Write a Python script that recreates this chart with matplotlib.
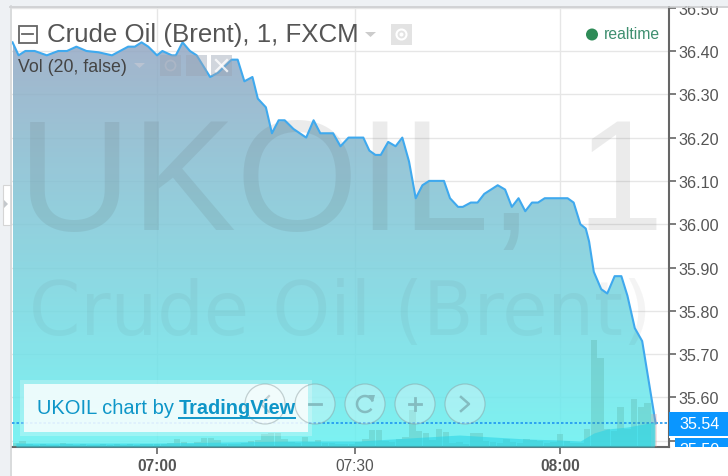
import numpy as np
import matplotlib
matplotlib.use("Agg")
import matplotlib.pyplot as plt
from matplotlib.colors import LinearSegmentedColormap
from matplotlib.patches import Circle, PathPatch, Polygon, Rectangle
from matplotlib.path import Path

plt.rcParams['font.family'] = ['Liberation Sans', 'DejaVu Sans']

# minutes after 07:00 and price
minutes = [-21.5, -20.6, -19.6, -18.2, -16.4, -14.7, -13.4, -12.0, -10.5, -8.7, -6.7, -4.3, -3.3, -2.3, -1.3,
           0, 0.8, 2.2, 2.8, 3.8, 4.9, 5.9, 7.9, 9.1, 11.1, 12.0, 13.0, 14.2, 15.0, 16.2, 17.1, 18.1, 19.0,
           20.3, 22.2, 23.3, 24.3, 26.2, 27.3, 28.5, 30.7, 31.6, 32.5, 33.3, 34.4, 35.5, 36.5, 37.5, 38.5,
           39.5, 40.5, 42.7, 43.6, 44.8, 45.5, 46.7, 47.7, 48.7, 49.7, 50.7, 51.8, 52.8, 53.8, 54.8, 55.8,
           56.7, 57.7, 61.1, 62.0, 63.0, 63.8, 64.3, 65.0, 66.1, 67.0, 68.1, 69.1, 70.0, 71.1, 72.2, 73.2, 74.2]
prices = [36.42, 36.39, 36.40, 36.40, 36.39, 36.40, 36.40, 36.41, 36.40, 36.397, 36.39, 36.41, 36.41, 36.42, 36.41,
          36.39, 36.40, 36.39, 36.39, 36.42, 36.40, 36.39, 36.34, 36.35, 36.38, 36.38, 36.33, 36.34, 36.29, 36.27,
          36.21, 36.24, 36.24, 36.22, 36.20, 36.24, 36.21, 36.21, 36.18, 36.20, 36.20, 36.17, 36.16, 36.16, 36.19,
          36.18, 36.20, 36.145, 36.06, 36.09, 36.10, 36.10, 36.06, 36.04, 36.04, 36.05, 36.05, 36.07, 36.08, 36.09,
          36.08, 36.04, 36.06, 36.03, 36.05, 36.05, 36.06, 36.06, 36.05, 36.00, 35.99, 35.96, 35.89, 35.85, 35.84,
          35.88, 35.88, 35.835, 35.76, 35.73, 35.635, 35.54]

first_bar = -21
volumes = [4, 6, 3, 2, 3, 2, 2, 4, 3, 2, 3, 2, 2, 3, 2, 3, 2, 3, 2, 3, 3,
           3, 3, 4, 8, 5, 3, 5, 9, 9, 7, 3, 3, 3, 4, 6, 7, 13, 14, 14, 8, 5, 4,
           10, 5, 7, 4, 4, 3, 3, 3, 5, 8, 17, 17, 6, 5, 8, 10, 37, 16, 14, 7, 18, 15,
           4, 5, 3, 14, 14, 6, 5, 4, 8, 5, 4, 8, 7, 6, 4, 5, 13, 6, 4, 4,
           18, 107, 89, 18, 16, 40, 18, 48, 40, 44, 33]
ma_minutes = [-21, -10, 0, 10, 20, 30, 35, 40, 45, 50, 55, 60, 63, 65, 67, 70, 74]
ma_values = [4, 4, 4, 5, 6, 6, 8, 10, 12, 10, 8, 7, 6, 14, 18, 20, 25]

last_price = 35.54
price_ticks = [35.5, 35.6, 35.7, 35.8, 35.9, 36.0, 36.1, 36.2, 36.3, 36.4, 36.5]
time_ticks = [0, 29.4, 60]
time_labels = ['07:00', '07:30', '08:00']

W, H = 728, 477
fig = plt.figure(figsize=(W / 100, H / 100), dpi=100, facecolor='white')
ax = fig.add_axes([12 / W, 1 - 448 / H, 657 / W, 440 / H])
ax.set_xlim(-21.58, 76.19)
ax.set_ylim(35.4855, 36.5016)
ax.set_zorder(1)

# volume pane shares the plot area (twinx resets tick sides, so do it first)
vol_ax = ax.twinx()
vol_ax.set_ylim(0, 440)
vol_ax.axis('off')
vol_ax.set_zorder(2)

ax.set_yticks(price_ticks)
# 35.50 is hidden behind the blue tag in the reference
ax.set_yticklabels(['' if p == 35.5 else f'{p:.2f}' for p in price_ticks])
ax.yaxis.tick_right()
ax.set_xticks(time_ticks)
ax.set_xticklabels(time_labels)
ax.tick_params(axis='y', length=5, width=1.2, color='#666666', labelcolor='#555555', labelsize=11.6, pad=2)
ax.tick_params(axis='x', length=5, width=1.2, color='#666666', labelcolor='#555555', labelsize=11.2, pad=3)
for lab, txt in zip(ax.get_xticklabels(), time_labels):
    if txt.endswith(':00'):
        lab.set_fontweight('bold')
for s in ['top', 'left']:
    ax.spines[s].set_visible(False)
for s in ['right', 'bottom']:
    ax.spines[s].set_color('#666666')
    ax.spines[s].set_linewidth(1.5)
ax.grid(True, color='#e6e6e6', lw=1)
ax.set_axisbelow(True)

# area with vertical gradient
cmap = LinearSegmentedColormap.from_list('area', ['#93a7c3', '#65f1f1'])
grad = np.linspace(0, 1, 256).reshape(-1, 1)
top = max(prices)
bottom = ax.get_ylim()[0]
img = ax.imshow(grad, cmap=cmap, extent=[minutes[0], minutes[-1], bottom, top], aspect='auto', alpha=0.85, zorder=2,
                origin='upper')
verts = list(zip(minutes, prices)) + [(minutes[-1], bottom), (minutes[0], bottom)]
clip = PathPatch(Path(verts + [verts[0]], closed=True), transform=ax.transData, fc='none', ec='none')
ax.add_patch(clip)
img.set_clip_path(clip)
ax.set_xlim(-21.58, 76.19)
ax.set_ylim(35.4855, 36.5016)

# watermark
ax.text(0.5, 0.495, 'UKOIL, 1', transform=ax.transAxes, ha='center', va='baseline', fontsize=113,
        color='#505050', alpha=0.11, zorder=3)
ax.text(0.5, 0.257, 'Crude Oil (Brent)', transform=ax.transAxes, ha='center', va='baseline', fontsize=53,
        family='DejaVu Sans', color='#505050', alpha=0.06, zorder=3)

ax.axhline(last_price, color='#1e96f0', lw=1.2, ls=(0, (1.5, 1.2)), zorder=5)
ax.plot(minutes, prices, color='#3fa9ee', lw=1.5, zorder=6, solid_joinstyle='round')

bar_x = np.arange(first_bar, first_bar + len(volumes))
bar_colors = ['#4f9f90'] * len(volumes)
bar_colors[-1] = '#e58a8a'
vol_ax.bar(bar_x, volumes, width=0.95, color=bar_colors, alpha=0.25, lw=0)
vol_ax.fill_between(ma_minutes, ma_values, 0, color='#27d3e6', alpha=0.55, lw=0)

# overlay in pixel coordinates for the widget chrome
ov = fig.add_axes([0, 0, 1, 1])
ov.set_xlim(0, W)
ov.set_ylim(H, 0)
ov.axis('off')
ov.set_zorder(3)
ov.patch.set_alpha(0)

ov.add_patch(Rectangle((0, 0), W, 7, fc='#eef1f4', ec='none'))
ov.plot([10, W], [7.5, 7.5], color='#c9cbcd', lw=1.2)
ov.add_patch(Rectangle((0, 0), 10, H, fc='#eef1f4', ec='none'))
ov.add_patch(Rectangle((3, 186), 8, 40, fc='white', ec='#d5d5d5', lw=0.8))
ov.plot([10.5, 10.5], [7, H], color='#d2d4d6', lw=1.2)
ov.add_patch(Polygon([(4, 201), (8, 205), (4, 209)], fc='#c4c8cc', ec='none'))

# title row
ov.add_patch(Rectangle((18.5, 26.5), 18, 17, fc='none', ec='#666666', lw=1.3))
ov.plot([22, 33], [35, 35], color='#666666', lw=1.3)
ov.text(47, 35, 'Crude Oil (Brent), 1, FXCM', fontsize=18.6, color='#555555', va='center', ha='left')
ov.add_patch(Polygon([(365, 33), (376, 33), (370.5, 38)], fc='#cccccc', ec='none'))
ov.add_patch(Rectangle((391, 25), 21, 21, fc='#e3e3e3', ec='none'))
ov.add_patch(Circle((401.5, 35.5), 5, fc='none', ec='white', lw=1.5))
ov.add_patch(Circle((401.5, 35.5), 2, fc='white', ec='none'))
ov.add_patch(Circle((592, 35.5), 6, fc='#2e8b57', ec='none'))
ov.text(604, 34.5, 'realtime', fontsize=11.3, color='#3f8f70', va='center', ha='left')

# volume legend row
ov.text(18, 67, 'Vol (20, false)', fontsize=12.8, color='#444444', va='center', ha='left')
ov.add_patch(Polygon([(134, 64), (145, 64), (139.5, 69)], fc='#b9c3d2', ec='none'))
for bx in [160, 186, 211]:
    ov.add_patch(Rectangle((bx, 56), 21, 21, fc='#9aa5b5', ec='none', alpha=0.45))
ov.add_patch(Circle((170.5, 66.5), 5, fc='none', ec='#abb6c6', lw=1.3))
ov.plot([216, 227], [61, 72], color='white', lw=1.6, alpha=0.8)
ov.plot([216, 227], [72, 61], color='white', lw=1.6, alpha=0.8)

# attribution box
ov.add_patch(Rectangle((20, 381), 292, 56, fc='white', ec='none', alpha=0.25))
ov.add_patch(Rectangle((24, 385), 284, 48, fc='white', ec='none', alpha=0.8))
ov.text(37, 409, 'UKOIL chart by ', fontsize=14.5, color='#0e96c8', va='center', ha='left')
ov.text(179, 409, 'TradingView', fontsize=14.3, color='#0e96c8', fontweight='bold', va='center', ha='left')
ov.plot([179, 295], [418.5, 418.5], color='#0e96c8', lw=1.4)

# scroll and zoom buttons
for cx in [265, 315, 365, 415, 465]:
    ov.add_patch(Circle((cx, 405), 20, fc='white', ec='none', alpha=0.3))
    ov.add_patch(Circle((cx, 405), 20, fc='none', ec='#8a9a9c', lw=0.9, alpha=0.45))
glyph = '#84bcc0'
ov.plot([269, 261, 269], [397, 405, 413], color='#c0d0d2', lw=1.5)
ov.plot([309, 321], [405, 405], color=glyph, lw=2)
arc = np.linspace(0.15, 1.75, 40) * np.pi
ov.plot(365 + 8 * np.cos(arc), 405 - 8 * np.sin(arc), color=glyph, lw=1.8)
ov.add_patch(Polygon([(368, 396), (375, 396), (373, 403)], fc=glyph, ec='none'))
ov.plot([409, 421], [405, 405], color=glyph, lw=2)
ov.plot([415, 415], [399, 411], color=glyph, lw=2)
ov.plot([461, 469, 461], [398, 405, 412], color=glyph, lw=1.8)

# price tags
ov.add_patch(Rectangle((669, 412.5), 59, 24.5, fc='#0a96ff', ec='none'))
ov.text(699.5, 424.5, '35.54', fontsize=11.6, color='white', ha='center', va='center')
ov.add_patch(Rectangle((669, 437), 59, 1.5, fc='white', ec='none'))
ov.add_patch(Rectangle((675, 438.5), 53, 9.5, fc='#0a96ff', ec='none'))
tag = ov.text(699.5, 451, '35.50', fontsize=11.6, color='white', ha='center', va='center')
tag.set_clip_path(Rectangle((675, 438.5), 53, 9.5, transform=ov.transData))

fig.savefig('out.png', dpi=100)
